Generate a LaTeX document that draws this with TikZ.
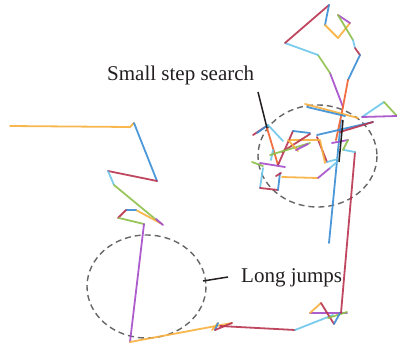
\documentclass[tikz,border=0pt]{standalone}
\usepackage{fontspec}
\setmainfont{Liberation Serif}
\definecolor{cO}{HTML}{F7B03C}
\definecolor{cB}{HTML}{3A8DD4}
\definecolor{cM}{HTML}{B8334F}
\definecolor{cL}{HTML}{6CC5EA}
\definecolor{cG}{HTML}{8DC04A}
\definecolor{cP}{HTML}{A44BC9}
\definecolor{cR}{HTML}{F0602C}
\definecolor{txt}{HTML}{231F20}
\begin{document}
\begin{tikzpicture}[x=1pt,y=-1pt,
  seg/.style={line width=1.8pt,line cap=round,line join=round,opacity=0.9},
  O/.style={seg,cO}, B/.style={seg,cB}, M/.style={seg,cM}, L/.style={seg,cL},
  G/.style={seg,cG}, P/.style={seg,cP}, R/.style={seg,cR},
  K/.style={line width=1.5pt,txt},
  circ/.style={draw=black!60,dashed,dash pattern=on 6pt off 4pt,line width=1.4pt},
  lbl/.style={anchor=base west,inner sep=0pt,text=txt,font=\fontsize{21}{24}\selectfont}]
\useasboundingbox (0,0) rectangle (397,349);
% dashed circles
\draw[circ] (146.5,286.5) ellipse [x radius=59.5,y radius=51.5];
\draw[circ] (317.5,156) ellipse [x radius=59.5,y radius=51];
% left part
\draw[O] (10,126) -- (130,127) -- (134,123);
\draw[B] (134,123) -- (157,181);
\draw[M] (157,181) -- (108,171);
\draw[L] (108,171) -- (114,185);
\draw[G] (114,185) -- (160,223);
\draw[O] (162,224) -- (136,210);
\draw[B] (136,210) -- (126,210);
\draw[M] (126,210) -- (118,218);
\draw[G] (119,218) -- (144,224);
\draw[P] (156,219) -- (163,225);
\draw[P] (144,224) -- (130,342);
% bottom
\draw[O] (130,342) -- (232,323);
\draw[O] (212,330) -- (218,323);
\draw[B] (218,323) -- (215,330);
\draw[M] (215,330) -- (232,323);
\draw[M] (220,326) -- (295,330);
\draw[L] (295,330) -- (333,315);
\draw[P] (310,313) -- (347,313);
\draw[O] (310,313) -- (321,303);
\draw[M] (321,303) -- (334,324);
\draw[G] (328,318) -- (347,312);
\draw[B] (334,324) -- (340,313);
\draw[M] (341,313) -- (355,152);
\draw[L] (355,152) -- (344,150);
% long blue
\draw[B] (329,243) -- (341,120);
% top loop
\draw[P] (343,107) -- (330,73);
\draw[G] (330,73) -- (318,55);
\draw[L] (318,55) -- (285,43);
\draw[M] (285,43) -- (329,5);
\draw[B] (329,5) -- (325,25);
\draw[O] (325,25) -- (338,38) -- (350,23);
\draw[P] (350,23) -- (338,15);
\draw[G] (338,15) -- (353,40);
\draw[L] (353,40) -- (355,48);
\draw[M] (355,48) -- (360,55);
\draw[B] (360,55) -- (348,80);
\draw[R] (348,80) -- (342,112) -- (336,140);
% right cluster
\draw[O] (305,104) -- (358,118);
\draw[B] (307,107) -- (345,116);
\draw[B] (317,135) -- (373,122);
\draw[M] (340,132) -- (373,122);
\draw[L] (362,117) -- (384,102);
\draw[G] (384,102) -- (397,116);
\draw[P] (397,116) -- (362,117);
\draw[M] (317,137) -- (327,162);
\draw[L] (327,162) -- (338,159);
\draw[O] (290,140) -- (320,140) -- (325,163);
\draw[P] (332,143) -- (348,140);
\draw[G] (348,140) -- (343,150);
\draw[K] (343,120) -- (339,162);
% left cluster
\draw[M] (253,135) -- (265,127);
\draw[B] (257,133) -- (268,125);
\draw[L] (268,125) -- (283,141);
\draw[R] (267,128) -- (278,165);
\draw[L] (273,150) -- (271,160);
\draw[M] (278,165) -- (293,131);
\draw[B] (293,131) -- (310,133);
\draw[M] (310,134) -- (282,152);
\draw[G] (270,155) -- (310,143);
\draw[O] (288,140) -- (298,151);
\draw[P] (296,150) -- (308,144);
\draw[G] (252,162) -- (263,166);
\draw[P] (260,163) -- (285,167);
\draw[L] (263,168) -- (260,188);
\draw[M] (260,188) -- (278,190);
\draw[B] (278,190) -- (280,173);
\draw[M] (276,176) -- (281,173);
\draw[O] (282,177) -- (318,178);
\draw[P] (318,178) -- (330,168);
\draw[L] (330,168) -- (337,162);
% labels and leaders
\node[lbl] (small) at (107,80) {Small step search};
\node[lbl] (long) at (241,282) {Long jumps};
\coordinate (s1) at (258,92);
\coordinate (s2) at (267,128);
\coordinate (l1) at (203,281);
\coordinate (l2) at (228,277);
\draw[K] (s1) -- (s2);
\draw[K] (l1) -- (l2);
\end{tikzpicture}
\end{document}
